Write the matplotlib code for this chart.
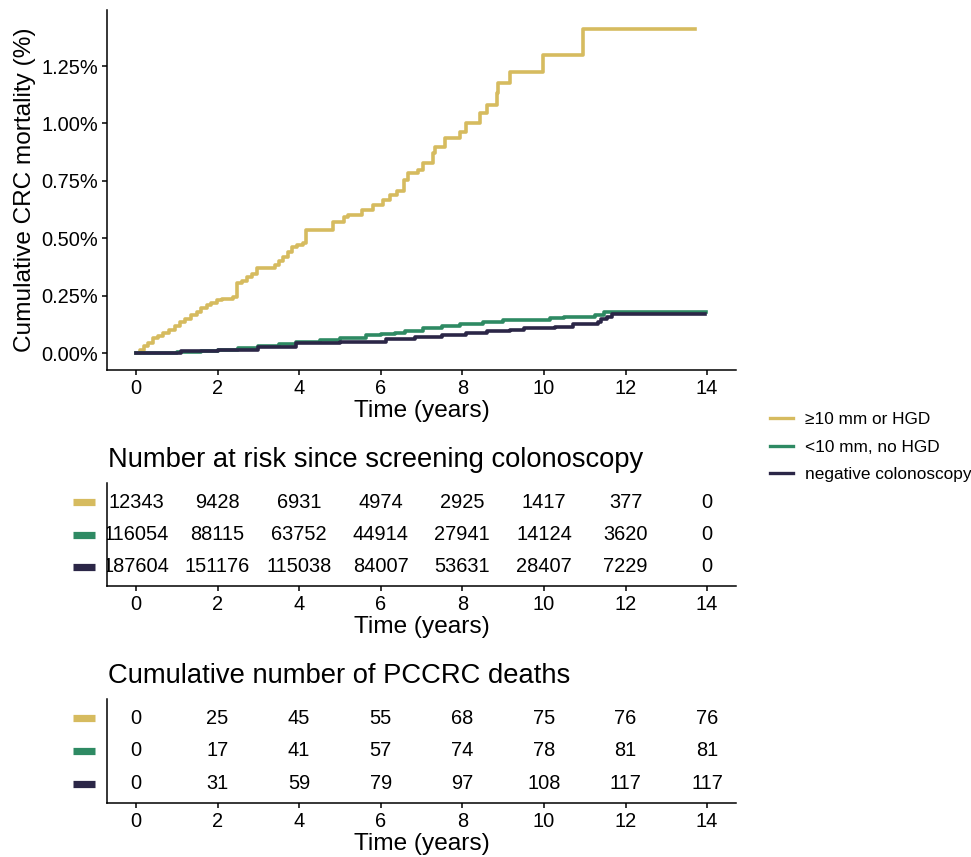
import matplotlib
matplotlib.use("Agg")
import matplotlib.pyplot as plt
from matplotlib.ticker import FuncFormatter

plt.rcParams['font.family'] = ['Liberation Sans', 'DejaVu Sans']

# ---------------- data ----------------
groups = ["≥10 mm or HGD", "<10 mm, no HGD", "negative colonoscopy"]
colors = ["#D6BB5F", "#2E8A63", "#2B2647"]

t_high = [0, 0.1, 0.2, 0.3, 0.42, 0.55, 0.66, 0.8, 0.95, 1.08, 1.2, 1.35, 1.49, 1.6,
          1.73, 1.85, 1.98, 2.1, 2.39, 2.47, 2.6, 2.71, 2.85, 2.96, 3.41, 3.5, 3.61,
          3.72, 3.82, 3.95, 4.1, 4.18, 4.84, 5.1, 5.2, 5.53, 5.82, 6.06, 6.23, 6.39,
          6.56, 6.66, 6.92, 7.04, 7.29, 7.33, 7.57, 7.94, 8.1, 8.43, 8.6, 8.84, 8.88,
          9.17, 9.98, 10.96, 13.7]
v_high = [0, 0.015, 0.03, 0.045, 0.064, 0.075, 0.087, 0.1, 0.118, 0.136, 0.15, 0.165,
          0.18, 0.195, 0.209, 0.22, 0.231, 0.235, 0.245, 0.304, 0.315, 0.332, 0.345,
          0.369, 0.385, 0.40, 0.42, 0.44, 0.463, 0.47, 0.478, 0.536, 0.572, 0.594,
          0.601, 0.623, 0.645, 0.666, 0.688, 0.707, 0.753, 0.785, 0.797, 0.826, 0.87,
          0.899, 0.935, 0.964, 1.0, 1.044, 1.08, 1.131, 1.175, 1.225, 1.298, 1.41, 1.41]

t_low = [0, 0.5, 1.0, 1.6, 2.0, 2.5, 3.0, 3.5, 3.92, 4.5, 5.0, 5.63, 6.0, 6.34, 6.6,
         7.04, 7.5, 7.95, 8.5, 9.0, 10.16, 10.5, 11.25, 11.47, 13.96]
v_low = [0, 0.002, 0.004, 0.009, 0.015, 0.022, 0.03, 0.04, 0.05, 0.058, 0.064, 0.078,
         0.082, 0.086, 0.096, 0.108, 0.118, 0.127, 0.136, 0.145, 0.152, 0.155, 0.165,
         0.18, 0.18]

t_neg = [0, 1.1, 2.0, 3.0, 3.92, 5.0, 6.14, 6.84, 7.5, 8.1, 8.6, 9.17, 9.5, 10.26,
         10.7, 11.33, 11.41, 11.55, 11.66, 13.95]
v_neg = [0, 0.008, 0.015, 0.028, 0.042, 0.05, 0.06, 0.071, 0.08, 0.086, 0.094, 0.1,
         0.107, 0.115, 0.125, 0.135, 0.147, 0.158, 0.17, 0.17]

table_times = [0, 2, 4, 6, 8, 10, 12, 14]
risk_high = [12343, 9428, 6931, 4974, 2925, 1417, 377, 0]
risk_low = [116054, 88115, 63752, 44914, 27941, 14124, 3620, 0]
risk_neg = [187604, 151176, 115038, 84007, 53631, 28407, 7229, 0]
deaths_high = [0, 25, 45, 55, 68, 75, 76, 76]
deaths_low = [0, 17, 41, 57, 74, 78, 81, 81]
deaths_neg = [0, 31, 59, 79, 97, 108, 117, 117]

xticks = [0, 2, 4, 6, 8, 10, 12, 14]
yticks = [0, 0.25, 0.5, 0.75, 1.0, 1.25]

# ---------------- figure ----------------
W, H = 971, 857
fig = plt.figure(figsize=(W / 100, H / 100), dpi=100)

def fx(px):
    return px / W

def fy(py):
    return 1 - py / H

left, right = 107.4, 735.7
xlim = (-0.7, 14.7)
tick_fs = 14.4
lab_fs = 17.6
spine_lw = 1.1

def style_axes(ax):
    for s in ['top', 'right']:
        ax.spines[s].set_visible(False)
    for s in ['left', 'bottom']:
        ax.spines[s].set_linewidth(spine_lw)
        ax.spines[s].set_color('black')
        ax.spines[s].set_zorder(5)
    ax.tick_params(axis='both', direction='out', length=3.8, width=spine_lw,
                   labelsize=tick_fs, colors='black', pad=3)
    ax.set_xlim(*xlim)
    ax.set_xticks(xticks)
    ax.set_xlabel("Time (years)", fontsize=lab_fs, labelpad=1)

# main plot
ax = fig.add_axes([fx(left), fy(370), fx(right - left), fy(10) - fy(370)])
style_axes(ax)
series = [(t_high, v_high), (t_low, v_low), (t_neg, v_neg)]
for (t, v), c, g in zip(series, colors, groups):
    ax.plot(t, v, drawstyle='steps-post', color=c, lw=2.6, label=g)
ax.set_ylim(-0.074, 1.494)
ax.set_yticks(yticks)
ax.yaxis.set_major_formatter(FuncFormatter(lambda v, p: f"{v:.2f}%"))
ax.set_ylabel("Cumulative CRC mortality (%)", fontsize=lab_fs, labelpad=4)

leg = fig.legend(loc='center left', bbox_to_anchor=(fx(770), fy(447)),
                 frameon=False, fontsize=12.4, handlelength=1.35,
                 handletextpad=0.7, labelspacing=0.72, borderpad=0,
                 borderaxespad=0)
for line in leg.get_lines():
    line.set_linewidth(2.4)

def table(top, bottom, title, rows):
    tax = fig.add_axes([fx(left), fy(bottom), fx(right - left), fy(top) - fy(bottom)])
    style_axes(tax)
    tax.set_ylim(0.415, 3.585)
    tax.set_yticks([])
    for i, (vals, c) in enumerate(zip(rows, colors)):
        yv = 3 - i
        for tt, vv in zip(table_times, vals):
            tax.text(tt, yv, str(vv), ha='center', va='center',
                     fontsize=tick_fs, clip_on=True)
        tax.plot([-0.0548, -0.0197], [yv, yv], color=c, lw=5.2,
                 solid_capstyle='butt', clip_on=False,
                 transform=tax.get_yaxis_transform())
    fig.text(fx(108), fy(top - 23), title, fontsize=19.7, ha='left', va='center')
    return tax

table(483, 586, "Number at risk since screening colonoscopy",
      [risk_high, risk_low, risk_neg])
table(699, 803, "Cumulative number of PCCRC deaths",
      [deaths_high, deaths_low, deaths_neg])

fig.savefig("out.png", dpi=100)
